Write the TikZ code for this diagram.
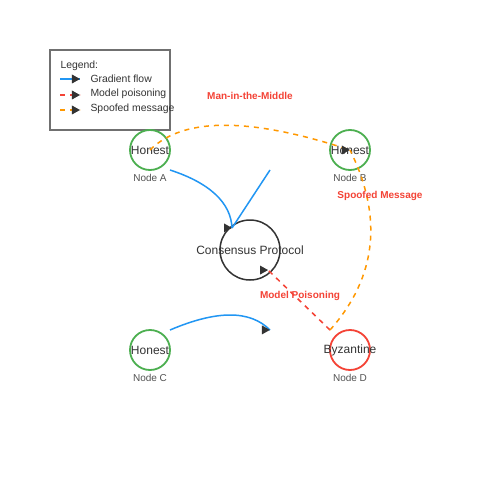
\documentclass[tikz,border=0pt]{standalone}
\usepackage{fontspec}
\setmainfont{Liberation Sans}
\usetikzlibrary{decorations.markings}

\definecolor{honestgreen}{HTML}{4CAF50}
\definecolor{byzred}{HTML}{F44336}
\definecolor{flowblue}{HTML}{2196F3}
\definecolor{spooforange}{HTML}{FF9800}
\definecolor{inkgray}{HTML}{333333}
\definecolor{boxgray}{HTML}{707070}

\tikzset{
  peer/.style={draw, shape=circle, line width=1.8pt, inner sep=0, minimum size=40pt,
    label distance=-5pt},
  peertext/.style={font=\fontsize{12}{14}\selectfont, text=inkgray},
  nodetag/.style={font=\fontsize{10}{12}\selectfont, text=inkgray!85},
  attacktag/.style={font=\bfseries\fontsize{10}{12}\selectfont, text=byzred},
  legendtext/.style={anchor=west, font=\fontsize{10.4}{12}\selectfont, text=inkgray},
  gradflow/.style={draw=flowblue, line width=1.5pt},
  poison/.style={draw=byzred, line width=1.5pt, dash pattern=on 5pt off 5pt},
  spoof/.style={draw=spooforange, line width=1.5pt, dash pattern=on 5pt off 5pt},
  righttip/.style={postaction={decorate}, decoration={markings,
    mark=at position 0.999 with {\pgftransformresetnontranslations
      \fill[inkgray] (-8pt,-4.5pt) -- (0pt,0pt) -- (-8pt,4.5pt) -- cycle;}}}
}

\begin{document}
\begin{tikzpicture}[x=1pt, y=-1pt]

    \useasboundingbox[fill=white] (0,0) rectangle (500,500);

    % Legend
    \node[draw=boxgray, line width=1.3pt, fill=white, minimum width=120pt,
    minimum height=80pt] (legend) at (110,90) {};
    \node[legendtext] (legendhead) at (57,66) {Legend:};
    \draw[gradflow, righttip] (60,79) -- (80,79);
    \node[legendtext] (gradtxt) at (87,79) {Gradient flow};
    \draw[poison, righttip] (60,95) -- (80,95);
    \node[legendtext] (poisontxt) at (87,94) {Model poisoning};
    \draw[spoof, righttip] (60,110) -- (80,110);
    \node[legendtext] (spooftxt) at (87,109) {Spoofed message};

    % Peers
    \node[peer, draw=honestgreen, label={[peertext]center:Honest},
    label={[nodetag]below:Node A}] (A) at (150,150) {};
    \node[peer, draw=honestgreen, label={[peertext]center:Honest},
    label={[nodetag]below:Node B}] (B) at (350,150) {};
    \node[peer, draw=honestgreen, label={[peertext]center:Honest},
    label={[nodetag]below:Node C}] (C) at (150,350) {};
    \node[peer, draw=byzred, label={[peertext]center:Byzantine},
    label={[nodetag]below:Node D}] (D) at (350,350) {};

    % Consensus
    \node[draw=inkgray, shape=circle, line width=1.5pt, inner sep=0, minimum size=60pt,
    label={[peertext]center:Consensus Protocol}] (CP) at (250,250) {};

    \coordinate (cpIn) at ([shift={(-18,-22)}]CP.center);
    \coordinate (cpPoison) at ([shift={(18,20)}]CP.center);
    \coordinate (bFree) at (270,170);
    \coordinate (cEnd) at (270,330);

    % Gradient flow
    \draw[gradflow, righttip] ([shift={(20,20)}]A.center)
    .. controls (210,183) and (231,203) .. (cpIn);
    \draw[gradflow] (bFree) -- (cpIn);
    \draw[gradflow, righttip] ([shift={(20,-20)}]C.center)
    .. controls (217,310) and (250,310) .. (cEnd);

    % Attacks
    \draw[poison, righttip] ([shift={(-20,-20)}]D.center) -- (cpPoison);
    \draw[spoof, righttip] (A.center)
    .. controls (183,117) and (250,117) .. (B.center);
    \draw[spoof] ([shift={(-20,-20)}]D.center)
    .. controls (377,277) and (383,217) .. (B.center);

    % Attack labels
    \node[attacktag] (mitm) at (250,96) {Man-in-the-Middle};
    \node[attacktag] (spoofed) at (380,196) {Spoofed Message};
    \node[attacktag] (poisoning) at (300,296) {Model Poisoning};

\end{tikzpicture}
\end{document}
